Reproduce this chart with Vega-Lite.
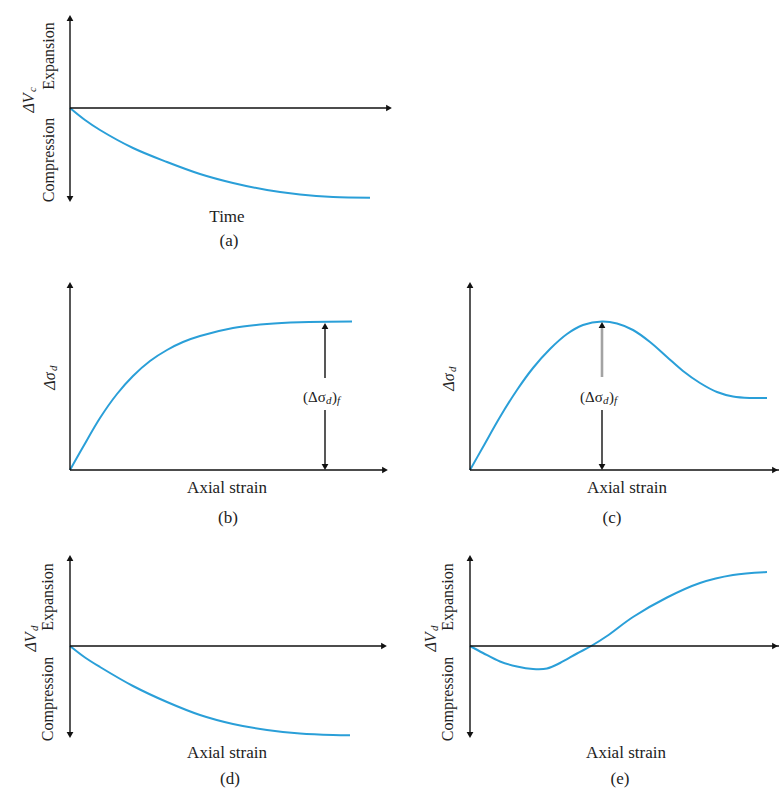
{
  "$schema": "https://vega.github.io/schema/vega-lite/v6.json",
  "background": "white",
  "padding": 0,
  "spacing": 0,
  "config": {"view": {"stroke": null}, "concat": {"spacing": 0}},
  "datasets": {
    "rows": [
      {"panel":"a","kind":"curve","x":0,"y":0},
      {"panel":"a","kind":"curve","x":1.5,"y":-1.2},
      {"panel":"a","kind":"curve","x":3.0,"y":-2.2},
      {"panel":"a","kind":"curve","x":6.3,"y":-4.0},
      {"panel":"a","kind":"curve","x":9.7,"y":-5.4},
      {"panel":"a","kind":"curve","x":13.0,"y":-6.6},
      {"panel":"a","kind":"curve","x":16.3,"y":-7.5},
      {"panel":"a","kind":"curve","x":19.7,"y":-8.2},
      {"panel":"a","kind":"curve","x":23.0,"y":-8.65},
      {"panel":"a","kind":"curve","x":26.3,"y":-8.9},
      {"panel":"a","kind":"curve","x":30.0,"y":-8.97},
      {"panel":"a","kind":"seg","tone":"black","x":0,"y":0,"x2":31.9,"y2":0},
      {"panel":"a","kind":"seg","tone":"black","x":0,"y":-9.1,"x2":0,"y2":9.0},
      {"panel":"a","kind":"head","dir":"right","x":31.9,"y":0},
      {"panel":"a","kind":"head","dir":"up","x":0,"y":9.0},
      {"panel":"a","kind":"head","dir":"down","x":0,"y":-9.1},
      {"panel":"a","kind":"caption","text":"Time","x":15.7,"y":-10.9},
      {"panel":"a","kind":"caption","text":"(a)","x":15.9,"y":-13.3},
      {"panel":"a","kind":"side","text":"Compression","x":-2.1,"y":-5.2},
      {"panel":"a","kind":"side","text":"Expansion","x":-2.1,"y":5.2},
      {"panel":"a","kind":"sym","text":"ΔV","x":-4.1,"y":0.5},
      {"panel":"a","kind":"symsub","text":"c","x":-4.1,"y":1.6},

      {"panel":"b","kind":"curve","x":0,"y":0},
      {"panel":"b","kind":"curve","x":1.3,"y":2.3},
      {"panel":"b","kind":"curve","x":3.0,"y":5.2},
      {"panel":"b","kind":"curve","x":4.7,"y":7.6},
      {"panel":"b","kind":"curve","x":6.3,"y":9.4},
      {"panel":"b","kind":"curve","x":8.0,"y":10.9},
      {"panel":"b","kind":"curve","x":9.7,"y":12.0},
      {"panel":"b","kind":"curve","x":11.3,"y":12.8},
      {"panel":"b","kind":"curve","x":13.0,"y":13.4},
      {"panel":"b","kind":"curve","x":16.3,"y":14.2},
      {"panel":"b","kind":"curve","x":19.7,"y":14.6},
      {"panel":"b","kind":"curve","x":23.0,"y":14.78},
      {"panel":"b","kind":"curve","x":28.2,"y":14.85},
      {"panel":"b","kind":"seg","tone":"black","x":0,"y":0,"x2":0,"y2":18.5},
      {"panel":"b","kind":"seg","tone":"black","x":0,"y":0,"x2":31.5,"y2":0},
      {"panel":"b","kind":"seg","tone":"black","x":25.5,"y":9.2,"x2":25.5,"y2":14.4},
      {"panel":"b","kind":"seg","tone":"black","x":25.5,"y":0.3,"x2":25.5,"y2":6.0},
      {"panel":"b","kind":"head","dir":"up","x":0,"y":18.5},
      {"panel":"b","kind":"head","dir":"right","x":31.5,"y":0},
      {"panel":"b","kind":"head","dir":"up","x":25.5,"y":14.4},
      {"panel":"b","kind":"head","dir":"down","x":25.5,"y":0.3},
      {"panel":"b","kind":"caption","text":"Axial strain","x":15.7,"y":-1.8},
      {"panel":"b","kind":"caption","text":"(b)","x":15.8,"y":-4.8},
      {"panel":"b","kind":"sym","text":"Δσ","x":-2.0,"y":8.9},
      {"panel":"b","kind":"symsub","text":"d","x":-2.0,"y":9.9},
      {"panel":"b","kind":"dimtext","text":"(Δσ","x":23.3,"y":7.3},
      {"panel":"b","kind":"dimtext","text":")","x":26.2,"y":7.3},
      {"panel":"b","kind":"dimsub","text":"d","x":25.6,"y":7.3},
      {"panel":"b","kind":"dimsub","text":"f","x":26.7,"y":7.3},

      {"panel":"c","kind":"curve","x":0,"y":0},
      {"panel":"c","kind":"curve","x":1.3,"y":2.3},
      {"panel":"c","kind":"curve","x":3.0,"y":5.3},
      {"panel":"c","kind":"curve","x":4.7,"y":8.0},
      {"panel":"c","kind":"curve","x":6.3,"y":10.2},
      {"panel":"c","kind":"curve","x":8.0,"y":12.1},
      {"panel":"c","kind":"curve","x":9.7,"y":13.6},
      {"panel":"c","kind":"curve","x":11.3,"y":14.5},
      {"panel":"c","kind":"curve","x":13.2,"y":14.85},
      {"panel":"c","kind":"curve","x":14.7,"y":14.65},
      {"panel":"c","kind":"curve","x":16.3,"y":14.0},
      {"panel":"c","kind":"curve","x":18.0,"y":12.8},
      {"panel":"c","kind":"curve","x":19.7,"y":11.3},
      {"panel":"c","kind":"curve","x":21.3,"y":9.9},
      {"panel":"c","kind":"curve","x":23.0,"y":8.7},
      {"panel":"c","kind":"curve","x":24.7,"y":7.8},
      {"panel":"c","kind":"curve","x":26.3,"y":7.35},
      {"panel":"c","kind":"curve","x":28.0,"y":7.2},
      {"panel":"c","kind":"curve","x":29.7,"y":7.2},
      {"panel":"c","kind":"seg","tone":"black","x":0,"y":0,"x2":0,"y2":18.5},
      {"panel":"c","kind":"seg","tone":"black","x":0,"y":0,"x2":30.9,"y2":0},
      {"panel":"c","kind":"seg","tone":"gray","x":13.2,"y":9.3,"x2":13.2,"y2":14.4},
      {"panel":"c","kind":"seg","tone":"black","x":13.2,"y":0.3,"x2":13.2,"y2":6.0},
      {"panel":"c","kind":"head","dir":"up","x":0,"y":18.5},
      {"panel":"c","kind":"head","dir":"right","x":30.5,"y":0},
      {"panel":"c","kind":"head","dir":"up","x":13.2,"y":14.5},
      {"panel":"c","kind":"head","dir":"down","x":13.2,"y":0.3},
      {"panel":"c","kind":"caption","text":"Axial strain","x":15.7,"y":-1.8},
      {"panel":"c","kind":"caption","text":"(c)","x":14.2,"y":-4.8},
      {"panel":"c","kind":"sym","text":"Δσ","x":-2.1,"y":8.8},
      {"panel":"c","kind":"symsub","text":"d","x":-2.1,"y":9.8},
      {"panel":"c","kind":"dimtext","text":"(Δσ","x":11.0,"y":7.3},
      {"panel":"c","kind":"dimtext","text":")","x":13.9,"y":7.3},
      {"panel":"c","kind":"dimsub","text":"d","x":13.3,"y":7.3},
      {"panel":"c","kind":"dimsub","text":"f","x":14.4,"y":7.3},

      {"panel":"d","kind":"curve","x":0,"y":0},
      {"panel":"d","kind":"curve","x":1.5,"y":-1.15},
      {"panel":"d","kind":"curve","x":3.0,"y":-2.1},
      {"panel":"d","kind":"curve","x":6.3,"y":-4.0},
      {"panel":"d","kind":"curve","x":9.7,"y":-5.6},
      {"panel":"d","kind":"curve","x":13.0,"y":-6.9},
      {"panel":"d","kind":"curve","x":16.3,"y":-7.8},
      {"panel":"d","kind":"curve","x":19.7,"y":-8.4},
      {"panel":"d","kind":"curve","x":23.0,"y":-8.75},
      {"panel":"d","kind":"curve","x":26.3,"y":-8.9},
      {"panel":"d","kind":"curve","x":28.0,"y":-8.92},
      {"panel":"d","kind":"seg","tone":"black","x":0,"y":-8.9,"x2":0,"y2":8.8},
      {"panel":"d","kind":"seg","tone":"black","x":0,"y":0,"x2":31.4,"y2":0},
      {"panel":"d","kind":"head","dir":"up","x":0,"y":8.8},
      {"panel":"d","kind":"head","dir":"down","x":0,"y":-8.9},
      {"panel":"d","kind":"head","dir":"right","x":31.4,"y":0},
      {"panel":"d","kind":"caption","text":"Axial strain","x":15.7,"y":-10.7},
      {"panel":"d","kind":"caption","text":"(d)","x":16.0,"y":-13.3},
      {"panel":"d","kind":"side","text":"Compression","x":-2.2,"y":-5.3},
      {"panel":"d","kind":"side","text":"Expansion","x":-2.2,"y":4.9},
      {"panel":"d","kind":"sym","text":"ΔV","x":-3.9,"y":0.4},
      {"panel":"d","kind":"symsub","text":"d","x":-3.9,"y":1.5},

      {"panel":"e","kind":"curve","x":0,"y":0},
      {"panel":"e","kind":"curve","x":1.3,"y":-0.7},
      {"panel":"e","kind":"curve","x":3.0,"y":-1.55},
      {"panel":"e","kind":"curve","x":4.7,"y":-2.05},
      {"panel":"e","kind":"curve","x":6.3,"y":-2.3},
      {"panel":"e","kind":"curve","x":7.7,"y":-2.25},
      {"panel":"e","kind":"curve","x":9.0,"y":-1.7},
      {"panel":"e","kind":"curve","x":10.7,"y":-0.75},
      {"panel":"e","kind":"curve","x":12.2,"y":0.05},
      {"panel":"e","kind":"curve","x":13.7,"y":1.0},
      {"panel":"e","kind":"curve","x":16.3,"y":2.9},
      {"panel":"e","kind":"curve","x":19.7,"y":4.85},
      {"panel":"e","kind":"curve","x":23.0,"y":6.3},
      {"panel":"e","kind":"curve","x":26.3,"y":7.1},
      {"panel":"e","kind":"curve","x":29.7,"y":7.4},
      {"panel":"e","kind":"seg","tone":"black","x":0,"y":-8.9,"x2":0,"y2":8.8},
      {"panel":"e","kind":"seg","tone":"black","x":0,"y":0,"x2":30.9,"y2":0},
      {"panel":"e","kind":"head","dir":"up","x":0,"y":8.8},
      {"panel":"e","kind":"head","dir":"down","x":0,"y":-8.9},
      {"panel":"e","kind":"head","dir":"right","x":30.5,"y":0},
      {"panel":"e","kind":"caption","text":"Axial strain","x":15.6,"y":-10.7},
      {"panel":"e","kind":"caption","text":"(e)","x":15.0,"y":-13.3},
      {"panel":"e","kind":"side","text":"Compression","x":-2.2,"y":-5.3},
      {"panel":"e","kind":"side","text":"Expansion","x":-2.2,"y":4.9},
      {"panel":"e","kind":"sym","text":"ΔV","x":-3.9,"y":0.4},
      {"panel":"e","kind":"symsub","text":"d","x":-3.9,"y":1.5}
    ]
  },
  "vconcat": [
    {
      "width": 400, "height": 255,
      "data": {"name": "rows"},
      "transform": [{"filter": "datum.panel === 'a'"}],
      "encoding": {
        "x": {"field": "x", "type": "quantitative", "scale": {"domain": [-7, 33], "nice": false, "zero": false}, "axis": null},
        "y": {"field": "y", "type": "quantitative", "scale": {"domain": [-14.7, 10.8], "nice": false, "zero": false}, "axis": null}
      },
      "layer": [
        {"transform": [{"filter": "datum.kind === 'curve'"}], "mark": {"type": "line", "interpolate": "catmull-rom", "color": "#2a9fd8", "strokeWidth": 2}, "encoding": {}},
        {"transform": [{"filter": "datum.kind === 'seg'"}], "mark": {"type": "rule"}, "encoding": {"x2": {"field": "x2"}, "y2": {"field": "y2"}, "color": {"field": "tone", "type": "nominal", "scale": {"domain": ["black", "gray"], "range": ["#111111", "#a3a3a3"]}, "legend": null}, "strokeWidth": {"field": "tone", "type": "nominal", "scale": {"domain": ["black", "gray"], "range": [1.4, 2.6]}, "legend": null}}},
        {"transform": [{"filter": "datum.kind === 'head'"}], "mark": {"type": "point", "filled": true, "size": 45, "color": "#111111", "opacity": 1}, "encoding": {"shape": {"field": "dir", "type": "nominal", "scale": {"domain": ["up", "down", "right"], "range": ["triangle-up", "triangle-down", "triangle-right"]}, "legend": null}}},
        {"transform": [{"filter": "datum.kind === 'caption'"}], "mark": {"type": "text", "font": "Liberation Serif", "fontSize": 17, "color": "#222222", "align": "center", "baseline": "middle"}, "encoding": {"text": {"field": "text", "type": "nominal"}}},
        {"transform": [{"filter": "datum.kind === 'side'"}], "mark": {"type": "text", "font": "Liberation Serif", "fontSize": 16, "angle": 270, "color": "#222222", "align": "center", "baseline": "middle"}, "encoding": {"text": {"field": "text", "type": "nominal"}}},
        {"transform": [{"filter": "datum.kind === 'sym'"}], "mark": {"type": "text", "font": "Liberation Serif", "fontSize": 16, "fontStyle": "italic", "angle": 270, "color": "#222222", "align": "center", "baseline": "middle"}, "encoding": {"text": {"field": "text", "type": "nominal"}}},
        {"transform": [{"filter": "datum.kind === 'symsub'"}], "mark": {"type": "text", "font": "Liberation Serif", "fontSize": 11, "fontStyle": "italic", "angle": 270, "dy": 4, "color": "#222222", "align": "left", "baseline": "middle"}, "encoding": {"text": {"field": "text", "type": "nominal"}}}
      ]
    },
    {
      "hconcat": [
        {
          "width": 400, "height": 275,
          "data": {"name": "rows"},
          "transform": [{"filter": "datum.panel === 'b'"}],
          "encoding": {
            "x": {"field": "x", "type": "quantitative", "scale": {"domain": [-7, 33], "nice": false, "zero": false}, "axis": null},
            "y": {"field": "y", "type": "quantitative", "scale": {"domain": [-6.0, 21.5], "nice": false, "zero": false}, "axis": null}
          },
          "layer": [
            {"transform": [{"filter": "datum.kind === 'curve'"}], "mark": {"type": "line", "interpolate": "catmull-rom", "color": "#2a9fd8", "strokeWidth": 2}, "encoding": {}},
            {"transform": [{"filter": "datum.kind === 'seg'"}], "mark": {"type": "rule"}, "encoding": {"x2": {"field": "x2"}, "y2": {"field": "y2"}, "color": {"field": "tone", "type": "nominal", "scale": {"domain": ["black", "gray"], "range": ["#111111", "#a3a3a3"]}, "legend": null}, "strokeWidth": {"field": "tone", "type": "nominal", "scale": {"domain": ["black", "gray"], "range": [1.4, 2.6]}, "legend": null}}},
            {"transform": [{"filter": "datum.kind === 'head'"}], "mark": {"type": "point", "filled": true, "size": 45, "color": "#111111", "opacity": 1}, "encoding": {"shape": {"field": "dir", "type": "nominal", "scale": {"domain": ["up", "down", "right"], "range": ["triangle-up", "triangle-down", "triangle-right"]}, "legend": null}}},
            {"transform": [{"filter": "datum.kind === 'caption'"}], "mark": {"type": "text", "font": "Liberation Serif", "fontSize": 17, "color": "#222222", "align": "center", "baseline": "middle"}, "encoding": {"text": {"field": "text", "type": "nominal"}}},
            {"transform": [{"filter": "datum.kind === 'sym'"}], "mark": {"type": "text", "font": "Liberation Serif", "fontSize": 16, "fontStyle": "italic", "angle": 270, "color": "#222222", "align": "center", "baseline": "middle"}, "encoding": {"text": {"field": "text", "type": "nominal"}}},
            {"transform": [{"filter": "datum.kind === 'symsub'"}], "mark": {"type": "text", "font": "Liberation Serif", "fontSize": 11, "fontStyle": "italic", "angle": 270, "dy": 4, "color": "#222222", "align": "left", "baseline": "middle"}, "encoding": {"text": {"field": "text", "type": "nominal"}}},
            {"transform": [{"filter": "datum.kind === 'dimtext'"}], "mark": {"type": "text", "font": "Liberation Serif", "fontSize": 15, "color": "#222222", "align": "left", "baseline": "middle"}, "encoding": {"text": {"field": "text", "type": "nominal"}}},
            {"transform": [{"filter": "datum.kind === 'dimsub'"}], "mark": {"type": "text", "font": "Liberation Serif", "fontSize": 11, "fontStyle": "italic", "dy": 4, "color": "#222222", "align": "left", "baseline": "middle"}, "encoding": {"text": {"field": "text", "type": "nominal"}}}
          ]
        },
        {
          "width": 379, "height": 275,
          "data": {"name": "rows"},
          "transform": [{"filter": "datum.panel === 'c'"}],
          "encoding": {
            "x": {"field": "x", "type": "quantitative", "scale": {"domain": [-7, 30.9], "nice": false, "zero": false}, "axis": null},
            "y": {"field": "y", "type": "quantitative", "scale": {"domain": [-6.0, 21.5], "nice": false, "zero": false}, "axis": null}
          },
          "layer": [
            {"transform": [{"filter": "datum.kind === 'curve'"}], "mark": {"type": "line", "interpolate": "catmull-rom", "color": "#2a9fd8", "strokeWidth": 2}, "encoding": {}},
            {"transform": [{"filter": "datum.kind === 'seg'"}], "mark": {"type": "rule"}, "encoding": {"x2": {"field": "x2"}, "y2": {"field": "y2"}, "color": {"field": "tone", "type": "nominal", "scale": {"domain": ["black", "gray"], "range": ["#111111", "#a3a3a3"]}, "legend": null}, "strokeWidth": {"field": "tone", "type": "nominal", "scale": {"domain": ["black", "gray"], "range": [1.4, 2.6]}, "legend": null}}},
            {"transform": [{"filter": "datum.kind === 'head'"}], "mark": {"type": "point", "filled": true, "size": 45, "color": "#111111", "opacity": 1}, "encoding": {"shape": {"field": "dir", "type": "nominal", "scale": {"domain": ["up", "down", "right"], "range": ["triangle-up", "triangle-down", "triangle-right"]}, "legend": null}}},
            {"transform": [{"filter": "datum.kind === 'caption'"}], "mark": {"type": "text", "font": "Liberation Serif", "fontSize": 17, "color": "#222222", "align": "center", "baseline": "middle"}, "encoding": {"text": {"field": "text", "type": "nominal"}}},
            {"transform": [{"filter": "datum.kind === 'sym'"}], "mark": {"type": "text", "font": "Liberation Serif", "fontSize": 16, "fontStyle": "italic", "angle": 270, "color": "#222222", "align": "center", "baseline": "middle"}, "encoding": {"text": {"field": "text", "type": "nominal"}}},
            {"transform": [{"filter": "datum.kind === 'symsub'"}], "mark": {"type": "text", "font": "Liberation Serif", "fontSize": 11, "fontStyle": "italic", "angle": 270, "dy": 4, "color": "#222222", "align": "left", "baseline": "middle"}, "encoding": {"text": {"field": "text", "type": "nominal"}}},
            {"transform": [{"filter": "datum.kind === 'dimtext'"}], "mark": {"type": "text", "font": "Liberation Serif", "fontSize": 15, "color": "#222222", "align": "left", "baseline": "middle"}, "encoding": {"text": {"field": "text", "type": "nominal"}}},
            {"transform": [{"filter": "datum.kind === 'dimsub'"}], "mark": {"type": "text", "font": "Liberation Serif", "fontSize": 11, "fontStyle": "italic", "dy": 4, "color": "#222222", "align": "left", "baseline": "middle"}, "encoding": {"text": {"field": "text", "type": "nominal"}}}
          ]
        }
      ],
      "spacing": 0
    },
    {
      "hconcat": [
        {
          "width": 400, "height": 264,
          "data": {"name": "rows"},
          "transform": [{"filter": "datum.panel === 'd'"}],
          "encoding": {
            "x": {"field": "x", "type": "quantitative", "scale": {"domain": [-7, 33], "nice": false, "zero": false}, "axis": null},
            "y": {"field": "y", "type": "quantitative", "scale": {"domain": [-14.8, 11.6], "nice": false, "zero": false}, "axis": null}
          },
          "layer": [
            {"transform": [{"filter": "datum.kind === 'curve'"}], "mark": {"type": "line", "interpolate": "catmull-rom", "color": "#2a9fd8", "strokeWidth": 2}, "encoding": {}},
            {"transform": [{"filter": "datum.kind === 'seg'"}], "mark": {"type": "rule"}, "encoding": {"x2": {"field": "x2"}, "y2": {"field": "y2"}, "color": {"field": "tone", "type": "nominal", "scale": {"domain": ["black", "gray"], "range": ["#111111", "#a3a3a3"]}, "legend": null}, "strokeWidth": {"field": "tone", "type": "nominal", "scale": {"domain": ["black", "gray"], "range": [1.4, 2.6]}, "legend": null}}},
            {"transform": [{"filter": "datum.kind === 'head'"}], "mark": {"type": "point", "filled": true, "size": 45, "color": "#111111", "opacity": 1}, "encoding": {"shape": {"field": "dir", "type": "nominal", "scale": {"domain": ["up", "down", "right"], "range": ["triangle-up", "triangle-down", "triangle-right"]}, "legend": null}}},
            {"transform": [{"filter": "datum.kind === 'caption'"}], "mark": {"type": "text", "font": "Liberation Serif", "fontSize": 17, "color": "#222222", "align": "center", "baseline": "middle"}, "encoding": {"text": {"field": "text", "type": "nominal"}}},
            {"transform": [{"filter": "datum.kind === 'side'"}], "mark": {"type": "text", "font": "Liberation Serif", "fontSize": 16, "angle": 270, "color": "#222222", "align": "center", "baseline": "middle"}, "encoding": {"text": {"field": "text", "type": "nominal"}}},
            {"transform": [{"filter": "datum.kind === 'sym'"}], "mark": {"type": "text", "font": "Liberation Serif", "fontSize": 16, "fontStyle": "italic", "angle": 270, "color": "#222222", "align": "center", "baseline": "middle"}, "encoding": {"text": {"field": "text", "type": "nominal"}}},
            {"transform": [{"filter": "datum.kind === 'symsub'"}], "mark": {"type": "text", "font": "Liberation Serif", "fontSize": 11, "fontStyle": "italic", "angle": 270, "dy": 4, "color": "#222222", "align": "left", "baseline": "middle"}, "encoding": {"text": {"field": "text", "type": "nominal"}}}
          ]
        },
        {
          "width": 379, "height": 264,
          "data": {"name": "rows"},
          "transform": [{"filter": "datum.panel === 'e'"}],
          "encoding": {
            "x": {"field": "x", "type": "quantitative", "scale": {"domain": [-7, 30.9], "nice": false, "zero": false}, "axis": null},
            "y": {"field": "y", "type": "quantitative", "scale": {"domain": [-14.8, 11.6], "nice": false, "zero": false}, "axis": null}
          },
          "layer": [
            {"transform": [{"filter": "datum.kind === 'curve'"}], "mark": {"type": "line", "interpolate": "catmull-rom", "color": "#2a9fd8", "strokeWidth": 2}, "encoding": {}},
            {"transform": [{"filter": "datum.kind === 'seg'"}], "mark": {"type": "rule"}, "encoding": {"x2": {"field": "x2"}, "y2": {"field": "y2"}, "color": {"field": "tone", "type": "nominal", "scale": {"domain": ["black", "gray"], "range": ["#111111", "#a3a3a3"]}, "legend": null}, "strokeWidth": {"field": "tone", "type": "nominal", "scale": {"domain": ["black", "gray"], "range": [1.4, 2.6]}, "legend": null}}},
            {"transform": [{"filter": "datum.kind === 'head'"}], "mark": {"type": "point", "filled": true, "size": 45, "color": "#111111", "opacity": 1}, "encoding": {"shape": {"field": "dir", "type": "nominal", "scale": {"domain": ["up", "down", "right"], "range": ["triangle-up", "triangle-down", "triangle-right"]}, "legend": null}}},
            {"transform": [{"filter": "datum.kind === 'caption'"}], "mark": {"type": "text", "font": "Liberation Serif", "fontSize": 17, "color": "#222222", "align": "center", "baseline": "middle"}, "encoding": {"text": {"field": "text", "type": "nominal"}}},
            {"transform": [{"filter": "datum.kind === 'side'"}], "mark": {"type": "text", "font": "Liberation Serif", "fontSize": 16, "angle": 270, "color": "#222222", "align": "center", "baseline": "middle"}, "encoding": {"text": {"field": "text", "type": "nominal"}}},
            {"transform": [{"filter": "datum.kind === 'sym'"}], "mark": {"type": "text", "font": "Liberation Serif", "fontSize": 16, "fontStyle": "italic", "angle": 270, "color": "#222222", "align": "center", "baseline": "middle"}, "encoding": {"text": {"field": "text", "type": "nominal"}}},
            {"transform": [{"filter": "datum.kind === 'symsub'"}], "mark": {"type": "text", "font": "Liberation Serif", "fontSize": 11, "fontStyle": "italic", "angle": 270, "dy": 4, "color": "#222222", "align": "left", "baseline": "middle"}, "encoding": {"text": {"field": "text", "type": "nominal"}}}
          ]
        }
      ],
      "spacing": 0
    }
  ]
}
